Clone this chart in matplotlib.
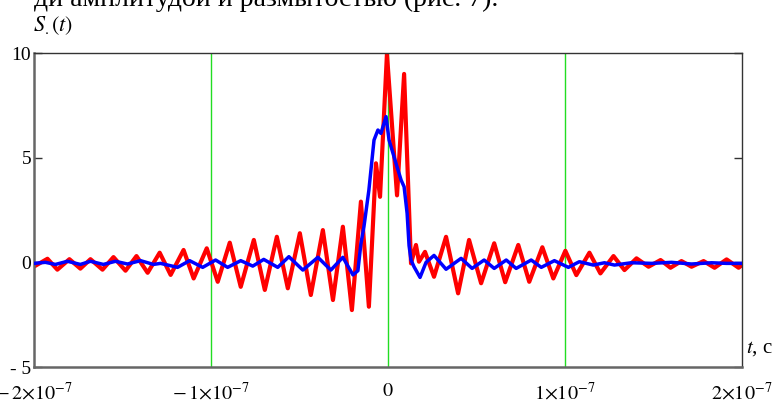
import matplotlib
matplotlib.use("Agg")
import matplotlib.pyplot as plt
import numpy as np

plt.rcParams["font.family"] = ["Liberation Serif", "DejaVu Serif"]
plt.rcParams["mathtext.fontset"] = "stix"

# red: S(t), read at the peaks and troughs (t in ns)
t_red = [-200, -192.4, -186.8, -180.0, -173.8, -168.1, -161.3, -155.1, -148.3, -142.1,
         -135.8, -129.0, -122.8, -115.5, -109.8, -102.4, -96.2, -89.4, -83.2, -75.8,
         -69.6, -62.8, -56.6, -49.8, -43.6, -36.8, -31.1, -25.5, -20.4, -15.3,
         -10.8, -6.8, -4.5, -0.6, 5.1, 9.1, 13.0, 15.8, 17.5, 20.9,
         26.0, 32.8, 39.6, 45.8, 52.6, 60.0, 66.2, 73.6, 79.8, 87.2,
         93.4, 100.2, 106.4, 113.8, 120.0, 127.4, 133.6, 140.4, 147.2, 154.0,
         159.6, 165.8, 171.5, 178.3, 184.5, 191.3, 198.1, 200]
s_red = [-0.2, 0.17, -0.35, 0.15, -0.3, 0.15, -0.35, 0.25, -0.4, 0.3,
         -0.5, 0.46, -0.6, 0.59, -0.77, 0.67, -0.93, 0.94, -1.17, 1.07,
         -1.32, 1.22, -1.24, 1.39, -1.56, 1.54, -1.8, 1.7, -2.28, 2.9,
         -2.12, 4.73, 3.13, 9.95, 3.2, 9.0, -0.05, 0.83, 0.03, 0.5,
         -0.69, 1.22, -1.48, 1.07, -1.0, 0.91, -0.95, 0.83, -0.93, 0.72,
         -0.77, 0.55, -0.61, 0.46, -0.53, 0.3, -0.37, 0.19, -0.21, 0.11,
         -0.26, 0.06, -0.21, 0.06, -0.26, 0.14, -0.26, -0.13]

# blue: smoothed signal
t_blue = [-200, -193.6, -187.9, -181.1, -173.8, -168.1, -160.8, -154.0, -147.2, -139.8,
          -132.5, -128.5, -118.9, -112.1, -104.7, -97.4, -90.6, -83.2, -76.4, -70.2,
          -62.3, -56.0, -48.1, -39.6, -32.3, -25.5, -19.8, -17.0, -15.3, -13.6,
          -10.8, -7.9, -5.7, -4.0, -1.1, 0.6, 4.5, 7.4, 9.1, 10.8,
          11.9, 13.0, 14.7, 18.1, 21.5, 26.0, 32.8, 41.3, 47.5, 54.3,
          60.0, 66.8, 72.4, 80.9, 86.6, 94.0, 101.9, 108.1, 116.0, 122.3,
          127.9, 137.5, 148.9, 160.2, 171.5, 182.8, 191.3, 200]
s_blue = [-0.05, 0.0, -0.1, 0.05, -0.1, 0.05, -0.1, 0.05, -0.08, 0.08,
          -0.1, -0.05, -0.24, 0.08, -0.24, 0.11, -0.24, 0.08, -0.18, 0.14,
          -0.24, 0.27, -0.37, 0.24, -0.37, 0.24, -0.6, -0.4, 0.9, 1.7,
          3.45, 5.84, 6.32, 6.16, 6.96, 5.84, 4.73, 3.93, 3.61, 2.34,
          0.8, 0.11, -0.21, -0.72, 0.0, 0.33, -0.33, 0.19, -0.29, 0.11,
          -0.29, 0.11, -0.29, 0.11, -0.24, 0.08, -0.24, 0.03, -0.13, -0.02,
          -0.13, -0.02, -0.05, 0.0, -0.08, -0.02, -0.05, -0.05]

markers_t = [-100, 0, 100]
xticks = [-200, -100, 0, 100, 200]
xtick_labels = [r"$-\,2{\times}10^{-7}$", r"$-\,1{\times}10^{-7}$", "$0$",
                r"$1{\times}10^{-7}$", r"$2{\times}10^{-7}$"]
yticks = [-5, 0, 5, 10]
ytick_labels = ["- 5", "0", "5", "10"]

fig = plt.figure(figsize=(7.75, 4.05), dpi=100)
ax = fig.add_axes([34 / 775, 38 / 405, 708 / 775, 314 / 405])

for tm in markers_t:
    ax.axvline(tm, color="#22dd22", lw=1.0, zorder=1)

ax.plot(t_red, s_red, color="#ff0000", lw=3.0, solid_joinstyle="round", zorder=2)
ax.plot(t_blue, s_blue, color="#0000ff", lw=2.5, solid_joinstyle="round", zorder=3)

ax.set_xlim(-200, 200)
ax.set_ylim(-5, 10)
ax.set_xticks(xticks)
ax.set_xticklabels(xtick_labels, fontsize=14.5)
ax.set_yticks(yticks)
ax.set_yticklabels(ytick_labels, fontsize=14)
ax.tick_params(axis="x", length=0, pad=11)
ax.tick_params(axis="y", direction="in", length=6, width=1, right=True, pad=2,
               colors="#333333", labelcolor="black")

for side in ["left", "bottom"]:
    ax.spines[side].set_color("#666666")
    ax.spines[side].set_linewidth(1.8)
for side in ["top", "right"]:
    ax.spines[side].set_color("#333333")
    ax.spines[side].set_linewidth(1.0)

fig.text(33 / 775, 1 - 31 / 405, r"$S_{.}(t)$", fontsize=16, ha="left", va="baseline")
ax.text(1.005, 0.06, r"$t$, c", transform=ax.transAxes, fontsize=15, ha="left", va="center")
fig.text(34 / 775, 1 - 6 / 405, "ди амплитудой и размытостью (рис. 7).",
         fontsize=20, ha="left", va="baseline")

fig.savefig("out.png", dpi=100)
